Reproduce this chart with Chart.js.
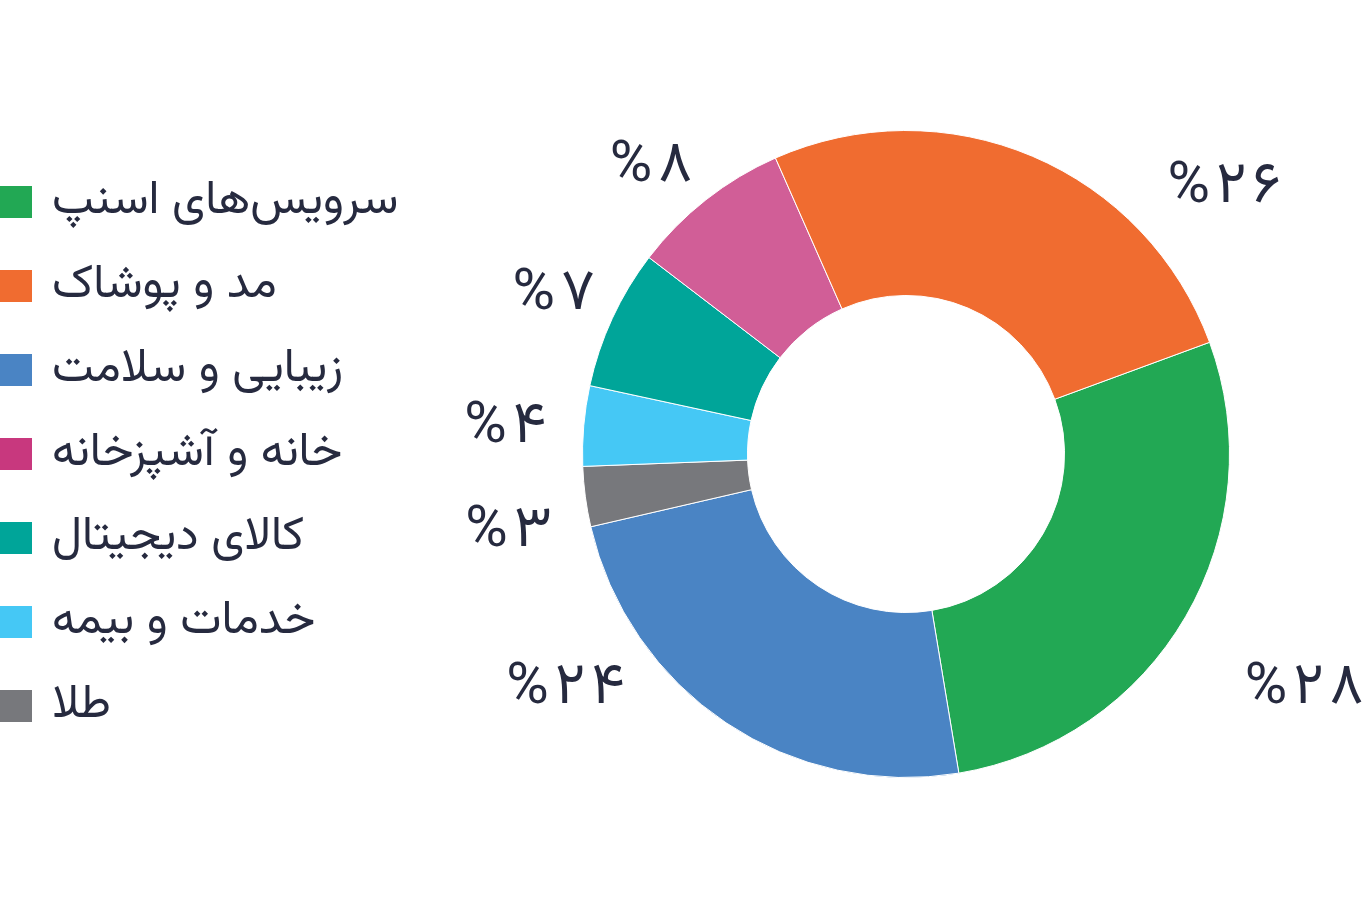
<!DOCTYPE html>
<html lang="fa">
<head>
<meta charset="utf-8">
<script src="https://cdn.jsdelivr.net/npm/chart.js@4.4.1/dist/chart.umd.min.js"></script>
<style>
  html, body { margin: 0; padding: 0; background: #fff; }
  #wrap { position: relative; width: 1367px; height: 908px; overflow: hidden; }
  #chart { position: absolute; left: 0; top: 0; }
  #legend { position: absolute; left: 0; top: 160px; margin: 0; padding: 0; list-style: none; }
  #legend li { display: flex; align-items: center; height: 84px; }
  #legend .box { width: 32px; height: 32px; margin-right: 20px; flex: none; }
  #legend .txt { font-family: Vazirmatn, "DejaVu Sans", sans-serif; font-size: 47px; line-height: 84px; color: #262a3f; direction: rtl; white-space: nowrap; }
</style>
</head>
<body>
<div id="wrap">
  <canvas id="chart" width="1367" height="908"></canvas>
  <ul id="legend"></ul>
</div>
<script>
// slices in clockwise drawing order
const categories = ["سرویس‌های اسنپ", "زیبایی و سلامت", "طلا", "خدمات و بیمه", "کالای دیجیتال", "خانه و آشپزخانه", "مد و پوشاک"];
const values = [28, 24, 3, 4, 7, 8, 26];
const sliceColors = ["#22a854", "#4a84c4", "#77787c", "#45c8f5", "#00a599", "#d15e97", "#f06c30"];
const legendColors = ["#22a854", "#4a84c4", "#77787c", "#45c8f5", "#00a599", "#c8387e", "#f06c30"];
// order the legend lists them in (indexes into the arrays above)
const legendOrder = [0, 6, 1, 5, 4, 3, 2];

const faDigits = "۰۱۲۳۴۵۶۷۸۹";
function toFa(n) {
  return String(n).replace(/\d/g, d => faDigits[d]);
}

const legend = document.getElementById("legend");
legendOrder.forEach(i => {
  const li = document.createElement("li");
  const box = document.createElement("span");
  box.className = "box";
  box.style.background = legendColors[i];
  const txt = document.createElement("span");
  txt.className = "txt";
  txt.textContent = categories[i];
  li.appendChild(box);
  li.appendChild(txt);
  legend.appendChild(li);
});

// draws text char by char so the glyphs get a bit of extra spacing
function spacedText(ctx, str, x, y, align, spacing) {
  const chars = Array.from(str);
  const widths = chars.map(c => ctx.measureText(c).width);
  const total = widths.reduce((a, b) => a + b, 0) + spacing * (chars.length - 1);
  let cx = align === "right" ? x - total : x;
  ctx.textAlign = "left";
  chars.forEach((c, k) => {
    ctx.fillText(c, cx, y);
    cx += widths[k] + spacing;
  });
}

const pctLabels = {
  id: "pctLabels",
  afterDatasetsDraw(chart, args, opts) {
    const ctx = chart.ctx;
    const meta = chart.getDatasetMeta(0);
    ctx.save();
    ctx.font = opts.font;
    ctx.fillStyle = opts.color;
    ctx.textBaseline = "middle";
    ctx.direction = "ltr";
    meta.data.forEach((arc, i) => {
      const p = arc.getProps(["x", "y", "startAngle", "endAngle", "outerRadius"], true);
      const n = opts.nudge[i] || {a: 0, r: 0};
      const mid = (p.startAngle + p.endAngle) / 2 + n.a * Math.PI / 180;
      const r = p.outerRadius + opts.gap + n.r;
      const px = p.x + Math.cos(mid) * r;
      const py = p.y + Math.sin(mid) * r + opts.dy;
      const align = Math.cos(mid) >= 0 ? "left" : "right";
      spacedText(ctx, "%" + toFa(values[i]), px, py, align, opts.spacing);
    });
    ctx.restore();
  }
};

new Chart(document.getElementById("chart").getContext("2d"), {
  type: "doughnut",
  data: {
    labels: categories,
    datasets: [{
      data: values,
      backgroundColor: sliceColors,
      borderColor: "#ffffff",
      borderWidth: 1,
      hoverOffset: 0
    }]
  },
  options: {
    responsive: false,
    animation: false,
    devicePixelRatio: 1,
    cutout: "49%",
    rotation: 69.8,
    layout: {
      padding: {left: 575, right: 130, top: 130, bottom: 130}
    },
    plugins: {
      legend: {display: false},
      tooltip: {enabled: false},
      pctLabels: {
        font: "58px Vazirmatn, 'DejaVu Sans', sans-serif",
        spacing: 6,
        color: "#262a3f",
        gap: 38,
        dy: 10,
        nudge: [
          {a: 4, r: 48},
          {a: 17, r: 2},
          {a: -4, r: 0},
          {a: 0, r: 0},
          {a: 3, r: -10},
          {a: 2, r: 0},
          {a: 21, r: 15}
        ]
      }
    }
  },
  plugins: [pctLabels]
});
</script>
</body>
</html>
